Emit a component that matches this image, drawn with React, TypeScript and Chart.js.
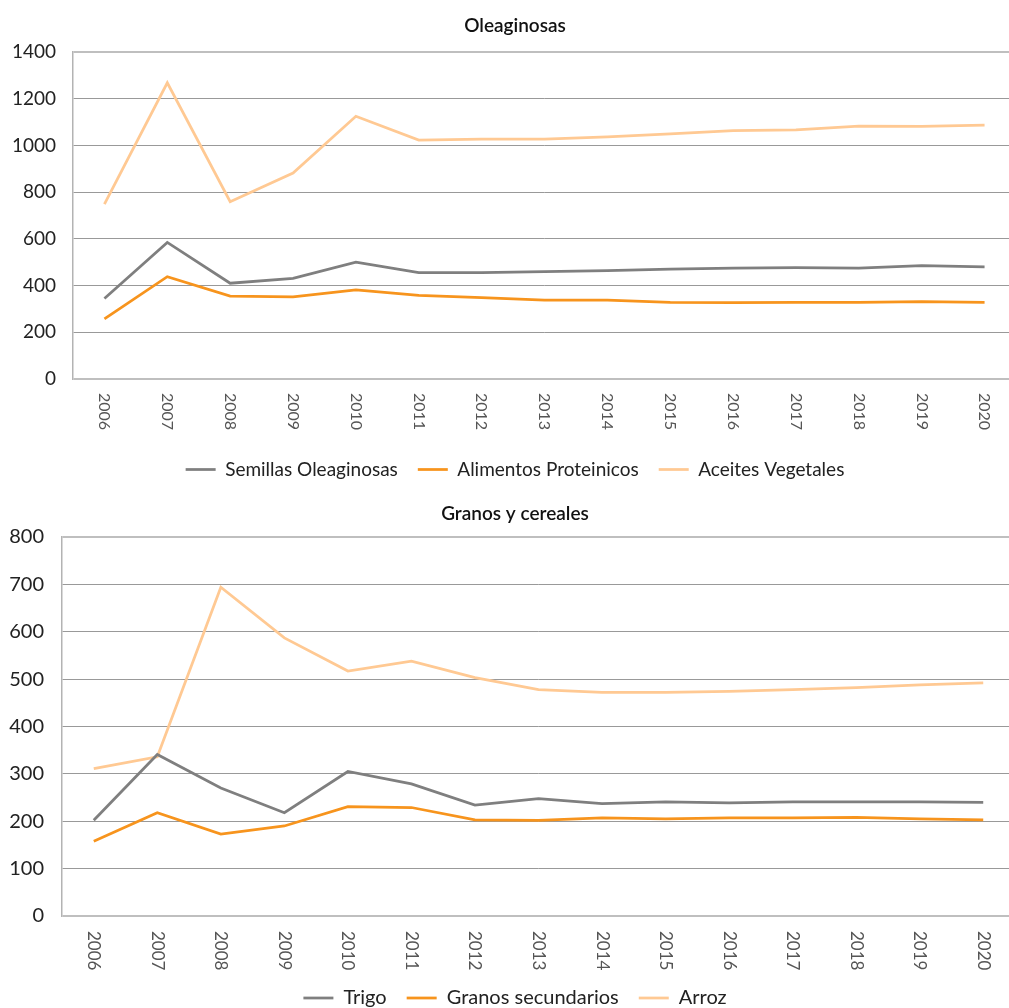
import React, { useEffect, useRef } from "react";
import { Chart, registerables } from "chart.js";

Chart.register(...registerables);

const years = ["2006","2007","2008","2009","2010","2011","2012","2013","2014","2015","2016","2017","2018","2019","2020"];

const semillasOleaginosas = [345, 585, 410, 431, 500, 455, 455, 460, 464, 470, 475, 477, 475, 485, 480];
const alimentosProteinicos = [257, 438, 355, 352, 382, 358, 348, 338, 338, 328, 327, 328, 328, 331, 328];
const aceitesVegetales = [749, 1268, 759, 882, 1125, 1023, 1027, 1027, 1037, 1049, 1063, 1067, 1083, 1082, 1087];

const trigo = [202, 341, 270, 218, 305, 279, 234, 248, 237, 241, 239, 241, 241, 241, 240];
const granosSecundarios = [158, 218, 173, 190, 231, 229, 203, 202, 207, 205, 207, 207, 208, 205, 203];
const arroz = [311, 336, 694, 587, 517, 538, 503, 478, 472, 472, 474, 478, 482, 488, 492];

const GRAY = "#7f7f7f";
const ORANGE = "#f7941d";
const LIGHT = "#ffc993";

const FONT = "Lato";

function makeXLabelPlugin(gap: number, size: number) {
  return {
    id: "xLabelsRot",
    afterDraw(chart: any) {
      const xs = chart.scales.x;
      const ctx = chart.ctx;
      ctx.save();
      ctx.font = `${size}px ${FONT}`;
      ctx.fillStyle = "#555555";
      ctx.textAlign = "left";
      ctx.textBaseline = "middle";
      const labels = chart.data.labels as string[];
      labels.forEach((lab, i) => {
        const x = xs.getPixelForTick(i);
        const y = chart.chartArea.bottom + gap;
        ctx.save();
        ctx.translate(x, y);
        ctx.rotate(Math.PI / 2);
        ctx.fillText(lab, 0, 0);
        ctx.restore();
      });
      ctx.restore();
    },
  };
}

function buildConfig(opts: {
  title: string;
  names: string[];
  series: number[][];
  colors: string[];
  max: number;
  step: number;
  yWidth: number;
  rightWidth: number;
  xHeight: number;
  titlePad: { top: number; bottom: number };
  tickPad: number;
  labelGap: number;
  tickSize: number;
  legendSize: number;
  xLabelSize: number;
}) {
  const maxV = opts.max;
  return {
    type: "line" as const,
    data: {
      labels: years,
      datasets: opts.series.map((s, i) => ({
        label: opts.names[i],
        data: s,
        borderColor: opts.colors[i],
        backgroundColor: opts.colors[i],
        borderWidth: 2.75,
        pointRadius: 0,
        tension: 0,
        fill: false,
        yAxisID: "y",
      })),
    },
    options: {
      responsive: false,
      animation: false as const,
      layout: { padding: 0 },
      plugins: {
        tooltip: { enabled: false },
        title: {
          display: true,
          text: opts.title,
          color: "#111",
          font: { family: FONT, size: 19, weight: "600" as any, lineHeight: 1.0 },
          padding: opts.titlePad,
        },
        legend: {
          position: "bottom" as const,
          labels: {
            usePointStyle: true,
            pointStyle: "line",
            pointStyleWidth: 30,
            boxWidth: 30,
            padding: 20,
            color: "#222",
            font: { family: FONT, size: opts.legendSize },
          },
        },
      },
      scales: {
        x: {
          offset: true,
          grid: { display: false },
          border: { display: false },
          ticks: { display: false },
          afterFit: (s: any) => { s.height = opts.xHeight; },
        },
        y: {
          position: "left" as const,
          min: 0,
          max: maxV,
          ticks: {
            stepSize: opts.step,
            color: "#222",
            font: { family: FONT, size: opts.tickSize },
            padding: opts.tickPad,
            callback: (v: any) => String(v),
          },
          grid: {
            drawTicks: false,
            color: (c: any) => (c.tick && (c.tick.value === 0 || c.tick.value === maxV) ? "#bfbfbf" : "#999999"),
            lineWidth: (c: any) => (c.tick && (c.tick.value === 0 || c.tick.value === maxV) ? 2 : 1),
          },
          border: { display: true, color: "#b3b3b3", width: 1.5 },
          afterFit: (s: any) => { s.width = opts.yWidth; },
        },
        yRight: {
          position: "right" as const,
          min: 0,
          max: 1,
          display: true,
          ticks: { display: false },
          grid: { display: false, drawTicks: false },
          border: { display: false },
          afterFit: (s: any) => { s.width = opts.rightWidth; },
        },
      },
    },
    plugins: [makeXLabelPlugin(opts.labelGap, opts.xLabelSize)],
  };
}

function ChartCanvas(props: { config: any; width: number; height: number; top: number }) {
  const ref = useRef<HTMLCanvasElement | null>(null);
  useEffect(() => {
    if (!ref.current) return;
    const chart = new Chart(ref.current, props.config);
    return () => chart.destroy();
  }, []);
  return (
    <canvas
      ref={ref}
      width={props.width}
      height={props.height}
      style={{ position: "absolute", left: 0, top: props.top, width: props.width, height: props.height }}
    />
  );
}

export default function App() {
  const topCfg = buildConfig({
    title: "Oleaginosas",
    names: ["Semillas Oleaginosas", "Alimentos Proteinicos", "Aceites Vegetales"],
    series: [semillasOleaginosas, alimentosProteinicos, aceitesVegetales],
    colors: [GRAY, ORANGE, LIGHT],
    max: 1400,
    step: 200,
    yWidth: 73,
    rightWidth: 14,
    xHeight: 61,
    titlePad: { top: 16, bottom: 17 },
    tickPad: 17,
    labelGap: 14,
    tickSize: 19,
    legendSize: 19,
    xLabelSize: 16,
  });
  const botCfg = buildConfig({
    title: "Granos y cereales",
    names: ["Trigo", "Granos secundarios", "Arroz"],
    series: [trigo, granosSecundarios, arroz],
    colors: [GRAY, ORANGE, LIGHT],
    max: 800,
    step: 100,
    yWidth: 62,
    rightWidth: 15,
    xHeight: 52,
    titlePad: { top: 16, bottom: 14 },
    tickPad: 18,
    labelGap: 15,
    tickSize: 20,
    legendSize: 20,
    xLabelSize: 17,
  });
  return (
    <div style={{ position: "fixed", left: 0, top: 0, width: 1009, height: 1008, overflow: "hidden", background: "#fff" }}>
      <ChartCanvas config={topCfg} width={1030} height={489} top={0} />
      <ChartCanvas config={botCfg} width={1030} height={530} top={488} />
    </div>
  );
}
